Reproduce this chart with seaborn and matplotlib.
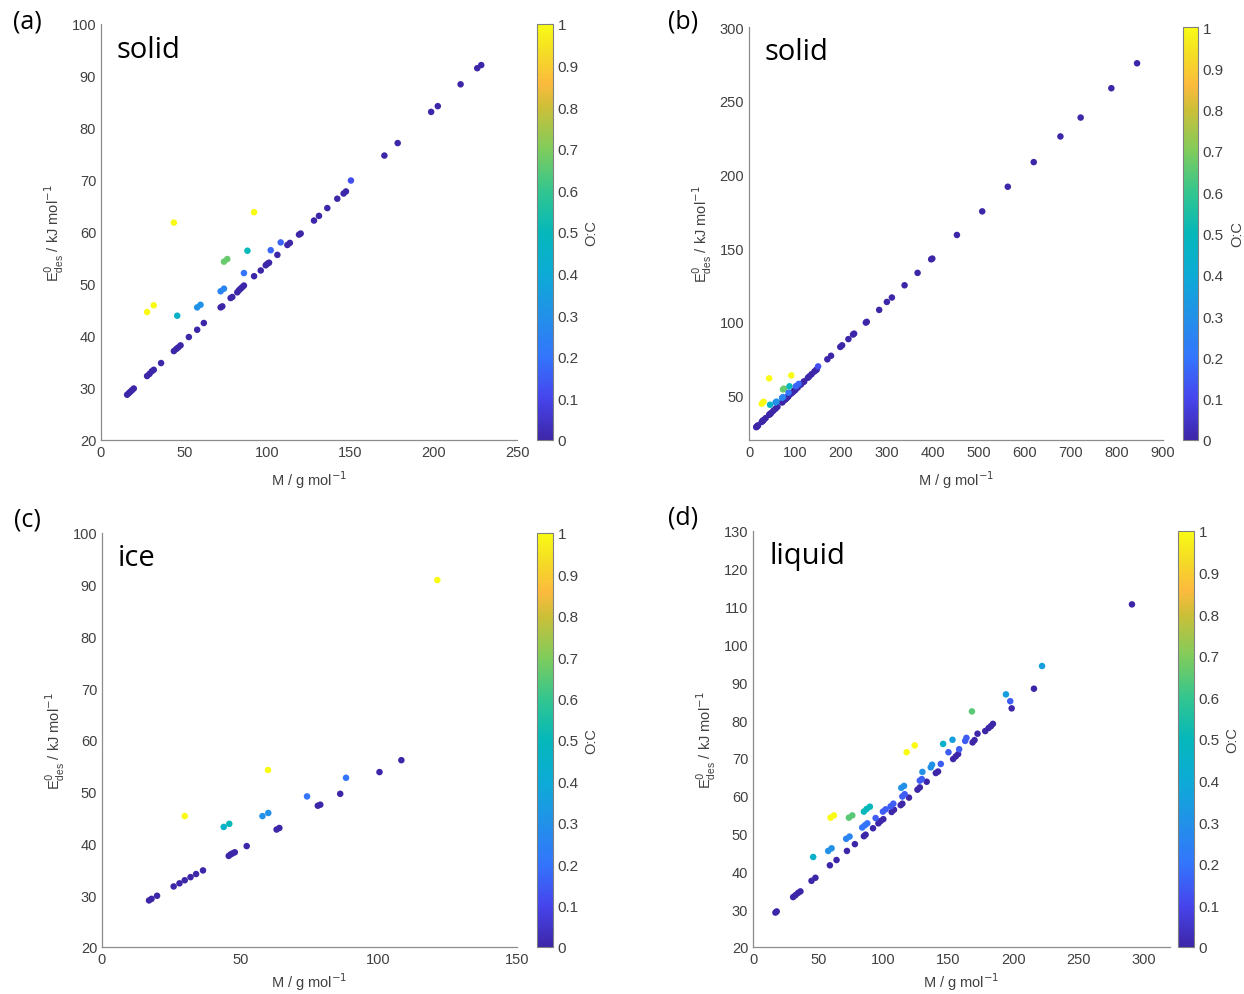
import numpy as np
import pandas as pd
import matplotlib
matplotlib.use("Agg")
import matplotlib.pyplot as plt
import seaborn as sns
from matplotlib.colors import LinearSegmentedColormap, Normalize
from matplotlib.cm import ScalarMappable

# --- data ---
# solid, M < 250 (panel a, also part of panel b)
solid_M = [15.7, 16.7, 17.7, 18.7, 19.7, 27.7, 29.1, 30.5, 31.7, 36.1,
           43.8, 45.2, 46.4, 47.8, 52.8, 57.8, 61.8, 71.9, 72.9, 77.9,
           78.9, 81.9, 82.9, 83.9, 84.9, 85.9, 92.0, 96.0, 99.0, 100.0,
           101.0, 106.0, 112.0, 113.5, 119.0, 120.0, 128.0, 131.0, 136.0, 142.0,
           145.8, 147.2, 170.3, 178.3, 198.4, 202.4, 216.1, 226.1, 228.5,
           150.2, 27.7, 31.7, 43.8, 45.8, 57.8, 59.8, 71.9, 73.9, 73.9,
           75.9, 85.9, 88.0, 92.0, 102.0, 108.0]
solid_E = [28.7, 29.0, 29.3, 29.6, 29.9, 32.3, 32.7, 33.2, 33.5, 34.8,
           37.1, 37.5, 37.8, 38.2, 39.8, 41.2, 42.5, 45.5, 45.7, 47.3,
           47.5, 48.4, 48.8, 49.1, 49.4, 49.7, 51.5, 52.6, 53.6, 53.9,
           54.1, 55.6, 57.5, 57.9, 59.5, 59.7, 62.2, 63.1, 64.6, 66.4,
           67.4, 67.8, 74.7, 77.1, 83.1, 84.2, 88.4, 91.5, 92.1,
           69.9, 44.6, 45.9, 61.8, 43.9, 45.5, 46.0, 48.6, 49.1, 54.3,
           54.8, 52.1, 56.4, 63.8, 56.5, 58.0]
solid_OC = [0] * 49 + [0.12, 1.0, 1.0, 1.0, 0.45, 0.3, 0.3, 0.25, 0.25, 0.67,
                       0.67, 0.2, 0.5, 1.0, 0.17, 0.17]

# solid, large molecules (panel b only)
large_M = [254, 256, 283, 299.7, 310.6, 338.2, 366.5, 396, 398.5, 452,
           507, 562.6, 619, 677, 721, 787.7, 843.6]
large_E = [99.6, 100.1, 108.2, 113.6, 116.6, 124.9, 133.3, 142.5, 143.0, 159,
           175, 191.7, 208.4, 225.8, 238.6, 258.5, 275.4]
large_OC = [0] * 17

# ice (panel c)
ice_M = [17.0, 17.9, 19.9, 25.9, 28.0, 29.9, 32.0, 34.0, 36.5, 45.8,
         46.5, 47.2, 48.0, 52.3, 63.1, 64.1, 78.0, 78.9, 86.1, 100.3,
         108.2, 29.9, 44.0, 46.0, 58.0, 60.1, 60.0, 74.1, 88.2, 121.2]
ice_E = [29.0, 29.3, 29.9, 31.7, 32.3, 32.9, 33.5, 34.1, 34.8, 37.6,
         37.9, 38.1, 38.3, 39.5, 42.7, 43.0, 47.3, 47.5, 49.6, 53.8,
         56.1, 45.3, 43.2, 43.8, 45.3, 45.9, 54.2, 49.1, 52.7, 90.9]
ice_OC = [0] * 21 + [1.0, 0.45, 0.5, 0.3, 0.3, 1.0, 0.2, 0.2, 1.0]

# liquid (panel d)
liq_M = [17.2, 18.2, 30.8, 32.6, 34.6, 36.4, 44.9, 47.9, 59.0, 64.1,
         72.1, 78.2, 85.1, 86.4, 92.1, 96.2, 97.9, 100.0, 106.4, 108.2,
         113.3, 114.6, 119.7, 126.2, 128.0, 133.3, 140.3, 142.0, 153.6, 155.6,
         157.4, 168.5, 170.0, 172.3, 178.2, 180.8, 182.6, 184.1, 198.5, 215.6,
         290.8,
         46.2, 57.7, 60.3, 59.5, 62.1, 71.5, 74.1, 73.6, 76.2, 83.8,
         85.9, 87.7, 85.1, 87.2, 89.7, 94.1, 99.7, 101.8, 105.6, 107.7,
         114.6, 116.4, 113.8, 115.9, 117.9, 124.1, 128.0, 129.5, 130.0, 136.4,
         137.4, 144.1, 150.0, 145.9, 153.1, 158.2, 162.8, 163.8, 168.0, 194.1,
         197.4, 221.8]
liq_E = [29.1, 29.4, 33.2, 33.7, 34.3, 34.7, 37.5, 38.3, 41.6, 43.0,
         45.4, 47.2, 49.3, 49.7, 51.4, 52.7, 53.3, 53.8, 55.7, 56.3,
         57.5, 57.9, 59.5, 61.6, 62.2, 63.7, 66.0, 66.4, 69.7, 70.4,
         71.0, 74.1, 74.7, 76.4, 77.1, 77.9, 78.4, 79.0, 83.1, 88.3,
         110.6,
         43.8, 45.4, 46.1, 54.2, 54.8, 48.6, 49.2, 54.2, 54.8, 51.6,
         52.2, 52.7, 55.8, 56.5, 57.1, 54.1, 55.8, 56.4, 57.2, 57.9,
         59.8, 60.4, 62.1, 62.6, 71.5, 73.3, 64.0, 64.4, 66.3, 67.5,
         68.2, 68.4, 71.5, 73.7, 74.8, 72.3, 74.5, 75.3, 82.3, 86.8,
         85.0, 94.3]
liq_OC = [0] * 41 + [0.45, 0.3, 0.3, 1.0, 1.0, 0.25, 0.25, 0.65, 0.65, 0.2,
                     0.2, 0.2, 0.5, 0.5, 0.5, 0.15, 0.15, 0.15, 0.15, 0.15,
                     0.15, 0.15, 0.3, 0.3, 1.0, 1.0, 0.15, 0.15, 0.3, 0.3,
                     0.3, 0.15, 0.15, 0.45, 0.35, 0.15, 0.15, 0.15, 0.65, 0.35,
                     0.15, 0.35]

# parula-like colormap
parula = LinearSegmentedColormap.from_list("parula", [
    (0.00, (0.2422, 0.1504, 0.6603)),
    (0.10, (0.2770, 0.2700, 0.9300)),
    (0.20, (0.2000, 0.4600, 0.9900)),
    (0.30, (0.1300, 0.5700, 0.9100)),
    (0.40, (0.0500, 0.6700, 0.8400)),
    (0.50, (0.0200, 0.7200, 0.7300)),
    (0.60, (0.2000, 0.7750, 0.5600)),
    (0.70, (0.5000, 0.8000, 0.3600)),
    (0.80, (0.8000, 0.7500, 0.2200)),
    (0.86, (0.9900, 0.7300, 0.2400)),
    (0.93, (0.9600, 0.8600, 0.1500)),
    (1.00, (0.9769, 0.9839, 0.0805)),
])
norm = Normalize(0, 1)

sns.set_style("white")
plt.rcParams['font.family'] = ['Liberation Sans', 'DejaVu Sans']

W, H = 1244, 995
fig = plt.figure(figsize=(W / 100, H / 100), dpi=100)


def px_axes(l, t, r, b):
    return fig.add_axes([l / W, 1 - b / H, (r - l) / W, (b - t) / H])


panels = [
    # data, ax box, cbar box, xlim, xticks, ylim, yticks, tag, tag pos, state, xlabel gap
    (pd.DataFrame({"M": solid_M, "E": solid_E, "OC": solid_OC}),
     (101, 25, 517, 441), (537, 25, 553, 441), (0, 250), np.arange(0, 251, 50),
     (20, 100), np.arange(20, 101, 10), "(a)", (27, 22), "solid", 28),
    (pd.DataFrame({"M": solid_M + large_M, "E": solid_E + large_E, "OC": solid_OC + large_OC}),
     (749, 28, 1163, 441), (1183, 28, 1198, 441), (0, 900), np.arange(0, 901, 100),
     (20, 300), np.arange(50, 301, 50), "(b)", (683, 22), "solid", 28),
    (pd.DataFrame({"M": ice_M, "E": ice_E, "OC": ice_OC}),
     (102, 534, 517, 948), (537, 534, 553, 948), (0, 150), np.arange(0, 151, 50),
     (20, 100), np.arange(20, 101, 10), "(c)", (27, 520), "ice", 23),
    (pd.DataFrame({"M": liq_M, "E": liq_E, "OC": liq_OC}),
     (753, 532, 1170, 948), (1178, 532, 1194, 948), (0, 320), np.arange(0, 301, 50),
     (20, 130), np.arange(20, 131, 10), "(d)", (683, 518), "liquid", 23),
]

grey = "0.25"
for df, box, cbox, xlim, xt, ylim, yt, tag, tpos, state, gap in panels:
    ax = px_axes(*box)
    sns.scatterplot(data=df, x="M", y="E", hue="OC", palette=parula, hue_norm=norm,
                    s=22, linewidth=0, legend=False, ax=ax)
    ax.set_xlim(*xlim)
    ax.set_ylim(*ylim)
    ax.set_xticks(xt)
    ax.set_yticks(yt)
    ax.tick_params(direction="in", length=3, width=0.8, colors="0.45",
                   labelcolor=grey, labelsize=10.5)
    for side in ("top", "right"):
        ax.spines[side].set_visible(False)
    for side in ("left", "bottom"):
        ax.spines[side].set_color("0.55")
        ax.spines[side].set_linewidth(0.9)
    ax.set_xlabel("M / g mol$^{-1}$", fontsize=10.5, color=grey)
    ax.set_ylabel("E$^0_\\mathregular{des}$ / kJ mol$^{-1}$", fontsize=10.5, color=grey)
    bw = box[2] - box[0]
    bh = box[3] - box[1]
    ax.xaxis.set_label_coords(0.5, -gap / bh)
    ax.yaxis.set_label_coords(-35 / bw, 0.5)
    ax.text(16 / bw, 1 - 25 / bh, state, transform=ax.transAxes, fontsize=21,
            family=["Open Sans", "DejaVu Sans"], color="black", ha="left", va="center")
    fig.text(tpos[0] / W, 1 - tpos[1] / H, tag, fontsize=18,
             family=["Open Sans", "DejaVu Sans"], color="black", ha="center", va="center")

    cax = px_axes(*cbox)
    cb = fig.colorbar(ScalarMappable(norm=norm, cmap=parula), cax=cax)
    cb.set_ticks(np.arange(0, 1.01, 0.1))
    cb.set_ticklabels(["0"] + [f"{v:.1f}" for v in np.arange(0.1, 0.95, 0.1)] + ["1"])
    cb.outline.set_edgecolor("0.5")
    cb.outline.set_linewidth(0.8)
    cax.tick_params(direction="in", length=3, width=0.8, colors="0.45",
                    labelcolor=grey, labelsize=11)
    cax.set_ylabel("O:C", fontsize=10.5, color=grey, rotation=90)
    cw = cbox[2] - cbox[0]
    cax.yaxis.set_label_coords(47 / cw, 0.5)

fig.savefig("out.png", dpi=100)
